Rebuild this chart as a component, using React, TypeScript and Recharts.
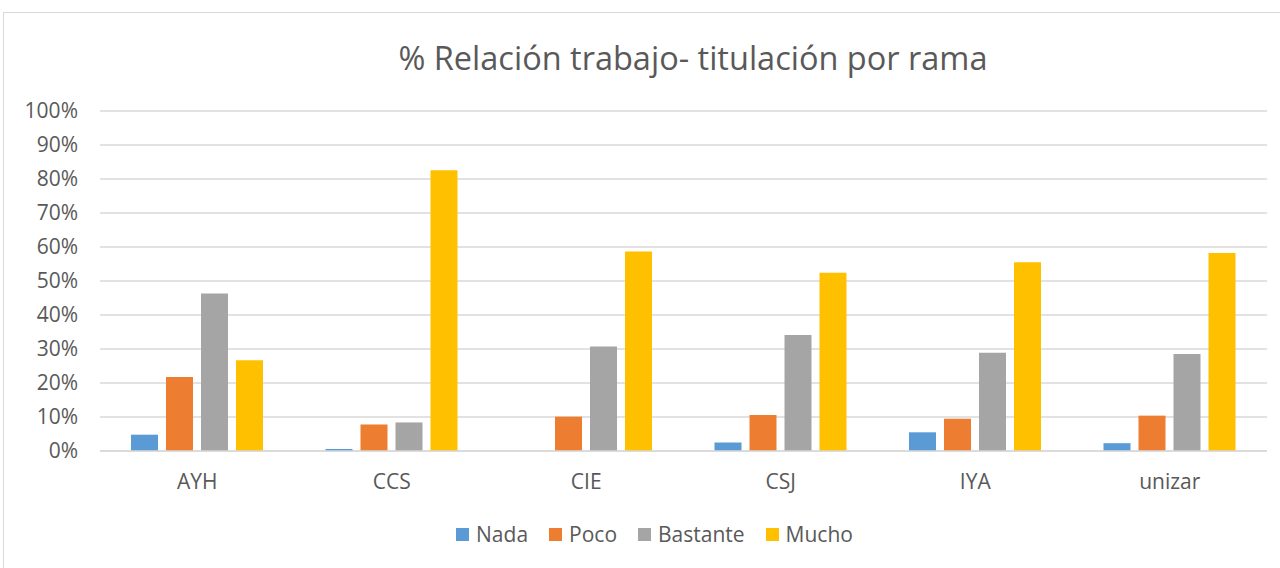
import React from "react";
import { BarChart, Bar, XAxis, YAxis, CartesianGrid, Legend } from "recharts";

const categories = ["AYH", "CCS", "CIE", "CSJ", "IYA", "unizar"];
const nada = [4.8, 0.6, 0, 2.5, 5.5, 2.3];
const poco = [21.8, 7.8, 10.1, 10.6, 9.5, 10.4];
const bastante = [46.3, 8.4, 30.7, 34.1, 28.9, 28.5];
const mucho = [26.7, 82.6, 58.7, 52.4, 55.5, 58.2];
const yTicks = [0, 10, 20, 30, 40, 50, 60, 70, 80, 90, 100];
const seriesNames = ["Nada", "Poco", "Bastante", "Mucho"];
const seriesColors = ["#5b9bd5", "#ed7d31", "#a5a5a5", "#ffc000"];
const title = "% Relación trabajo- titulación por rama";

const data = categories.map((c, i) => ({
  name: c,
  Nada: nada[i],
  Poco: poco[i],
  Bastante: bastante[i],
  Mucho: mucho[i],
}));

const FONT = "'Open Sans', 'Liberation Sans', sans-serif";
const TEXT = "#595959";

const renderLegend = () => (
  <div
    style={{
      display: "flex",
      justifyContent: "center",
      alignItems: "center",
      fontFamily: FONT,
      fontSize: 21,
      color: TEXT,
      height: 32,
      paddingLeft: 42,
    }}
  >
    {seriesNames.map((n, i) => (
      <div key={n} style={{ display: "flex", alignItems: "center", marginLeft: i === 0 ? 0 : 21 }}>
        <span style={{ display: "inline-block", width: 13, height: 13, background: seriesColors[i], marginRight: 7 }} />
        <span>{n}</span>
      </div>
    ))}
  </div>
);

export default function App() {
  return (
    <div style={{ position: "absolute", left: 0, top: 0, width: 1280, height: 568, overflow: "hidden", background: "#fff" }}>
      <div
        style={{
          position: "absolute",
          left: 3,
          top: 12,
          width: 1300,
          height: 600,
          border: "1px solid #d9d9d9",
          boxSizing: "border-box",
        }}
      />
      <div
        style={{
          position: "absolute",
          left: 0,
          top: 41,
          width: 1386,
          textAlign: "center",
          fontFamily: FONT,
          fontSize: 32.5,
          lineHeight: "34px",
          color: TEXT,
          whiteSpace: "nowrap",
        }}
      >
        {title}
      </div>
      <div style={{ position: "absolute", left: 0, top: 0 }}>
        <BarChart
          width={1280}
          height={568}
          data={data}
          margin={{ top: 111, right: 13, left: 0, bottom: 18 }}
          barGap={8}
          barSize={27}
        >
          <CartesianGrid vertical={false} stroke="#d9d9d9" strokeWidth={1.3} />
          <XAxis
            dataKey="name"
            height={67}
            axisLine={{ stroke: "#d9d9d9", strokeWidth: 1.3 }}
            tickLine={false}
            tickSize={0}
            tickMargin={23}
            tick={{ fill: TEXT, fontSize: 21, fontFamily: FONT }}
          />
          <YAxis
            width={100}
            domain={[0, 100]}
            ticks={yTicks}
            interval={0}
            axisLine={false}
            tickLine={false}
            tickSize={0}
            tickMargin={22}
            tickFormatter={(v: number) => `${v}%`}
            tick={{ fill: TEXT, fontSize: 21, fontFamily: FONT }}
          />
          <Legend verticalAlign="bottom" content={renderLegend} />
          {seriesNames.map((n, i) => (
            <Bar key={n} dataKey={n} fill={seriesColors[i]} isAnimationActive={false} />
          ))}
        </BarChart>
      </div>
    </div>
  );
}
